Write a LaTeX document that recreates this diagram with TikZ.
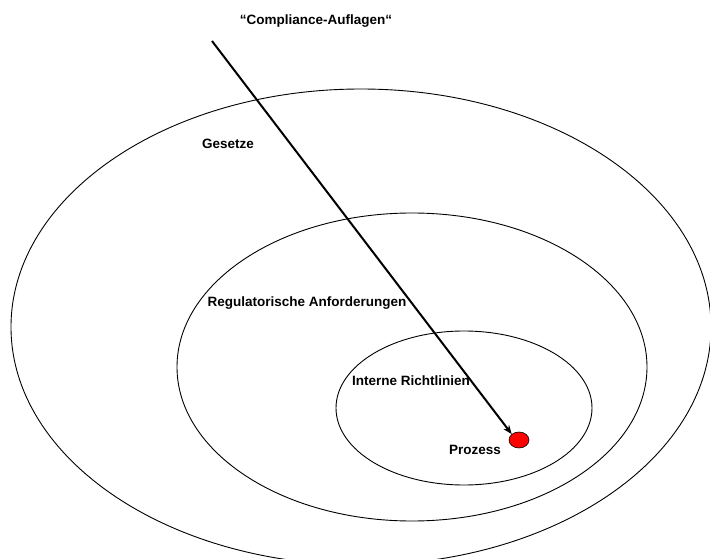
\documentclass[tikz,border=0pt]{standalone}
\usepackage{fontspec}
\setmainfont{Liberation Sans}
\usetikzlibrary{arrows.meta,shapes.geometric}
\begin{document}
\begin{tikzpicture}[x=1pt,y=-1pt,
  ring/.style={draw=black,line width=0.9pt},
  lbl/.style={font=\bfseries\fontsize{13.5}{16}\selectfont,inner sep=0pt}]
\useasboundingbox (0,0) rectangle (710,559);
\draw[ring] (361,327) ellipse [x radius=350, y radius=238];
\draw[ring] (412,367) ellipse [x radius=235, y radius=154];
\draw[ring] (464,408) ellipse [x radius=128, y radius=77];
\node[lbl] (title) at (316,21) {“Compliance-Auflagen“};
\node[lbl] (ges) at (228,144) {Gesetze};
\node[lbl] (reg) at (307,303) {Regulatorische Anforderungen};
\node[lbl] (int) at (411,381) {Interne Richtlinien};
\node[lbl] (pro) at (475,450) {Prozess};
\node[draw=black,line width=0.6pt,fill=red,ellipse,minimum width=20pt,minimum height=16pt,inner sep=0pt] (dot) at (519,440) {};
\coordinate (start) at (212,41);
\draw[line width=2pt,-{Stealth[length=9pt,width=7pt]}] (start) -- (dot.north west);
\end{tikzpicture}
\end{document}
